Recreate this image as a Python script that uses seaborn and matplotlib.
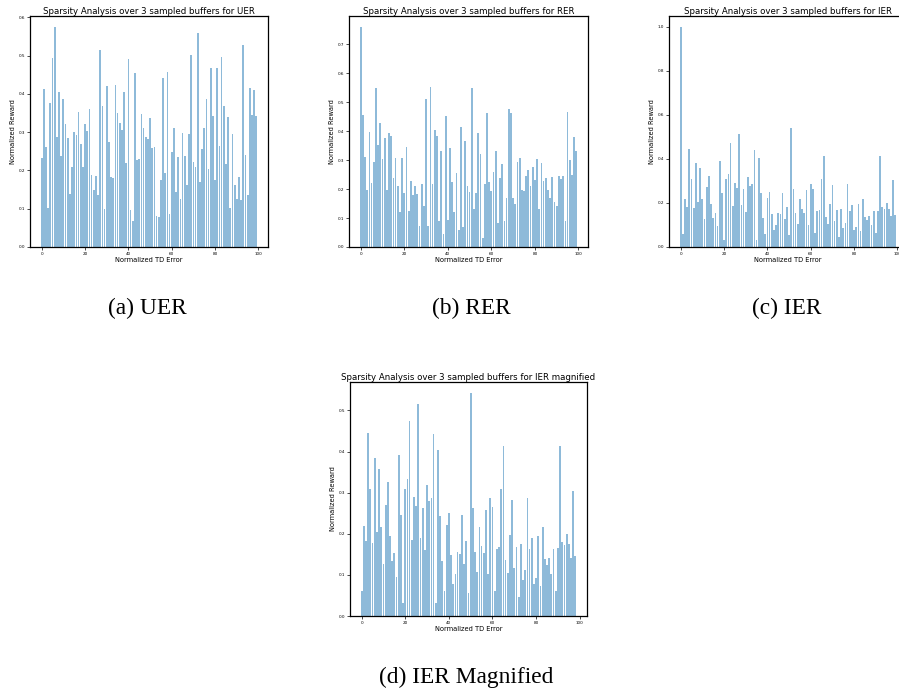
import matplotlib
matplotlib.use("Agg")
import matplotlib.pyplot as plt
import seaborn as sns
import numpy as np
import pandas as pd

uer = [0.233, 0.413, 0.262, 0.103, 0.376, 0.493, 0.575, 0.288, 0.405, 0.238,
       0.387, 0.322, 0.285, 0.139, 0.210, 0.301, 0.293, 0.353, 0.270, 0.210,
       0.322, 0.303, 0.360, 0.189, 0.150, 0.186, 0.137, 0.515, 0.369, 0.100,
       0.421, 0.275, 0.184, 0.181, 0.423, 0.350, 0.324, 0.306, 0.405, 0.220,
       0.491, 0.098, 0.069, 0.454, 0.228, 0.230, 0.348, 0.311, 0.288, 0.283,
       0.337, 0.260, 0.262, 0.082, 0.079, 0.176, 0.441, 0.194, 0.457, 0.085,
       0.249, 0.312, 0.145, 0.234, 0.126, 0.299, 0.238, 0.163, 0.296, 0.502,
       0.223, 0.210, 0.560, 0.169, 0.257, 0.312, 0.387, 0.205, 0.468, 0.343,
       0.174, 0.468, 0.265, 0.497, 0.369, 0.218, 0.340, 0.101, 0.296, 0.163,
       0.126, 0.184, 0.122, 0.528, 0.241, 0.135, 0.416, 0.345, 0.411, 0.342]

rer = [0.760, 0.456, 0.312, 0.198, 0.399, 0.222, 0.295, 0.550, 0.353, 0.429,
       0.305, 0.378, 0.198, 0.395, 0.385, 0.240, 0.308, 0.212, 0.122, 0.309,
       0.188, 0.347, 0.126, 0.229, 0.181, 0.212, 0.184, 0.074, 0.219, 0.142,
       0.512, 0.074, 0.553, 0.219, 0.405, 0.385, 0.091, 0.333, 0.046, 0.454,
       0.094, 0.343, 0.223, 0.122, 0.257, 0.060, 0.415, 0.070, 0.367, 0.212,
       0.191, 0.550, 0.132, 0.185, 0.395, 0.320, 0.032, 0.219, 0.464, 0.226,
       0.195, 0.260, 0.333, 0.082, 0.240, 0.288, 0.091, 0.171, 0.477, 0.464,
       0.171, 0.150, 0.295, 0.309, 0.198, 0.195, 0.246, 0.267, 0.212, 0.278,
       0.233, 0.305, 0.133, 0.291, 0.229, 0.240, 0.198, 0.171, 0.243, 0.157,
       0.140, 0.246, 0.236, 0.246, 0.091, 0.467, 0.302, 0.250, 0.381, 0.333]

ier = [1.000, 0.060, 0.220, 0.183, 0.446, 0.308, 0.178, 0.384, 0.205, 0.357,
       0.217, 0.126, 0.271, 0.325, 0.195, 0.134, 0.153, 0.094, 0.391, 0.246,
       0.032, 0.308, 0.332, 0.475, 0.185, 0.290, 0.268, 0.515, 0.190, 0.263,
       0.161, 0.318, 0.279, 0.288, 0.443, 0.032, 0.404, 0.244, 0.133, 0.060,
       0.222, 0.251, 0.148, 0.077, 0.101, 0.156, 0.151, 0.246, 0.126, 0.183,
       0.055, 0.542, 0.262, 0.156, 0.106, 0.217, 0.171, 0.153, 0.259, 0.101,
       0.286, 0.264, 0.062, 0.163, 0.168, 0.310, 0.414, 0.136, 0.104, 0.197,
       0.281, 0.116, 0.168, 0.047, 0.175, 0.087, 0.111, 0.288, 0.163, 0.190,
       0.077, 0.092, 0.195, 0.072, 0.217, 0.138, 0.124, 0.141, 0.101, 0.163,
       0.062, 0.165, 0.414, 0.180, 0.173, 0.200, 0.175, 0.141, 0.303, 0.145]

ier_mag = ier[1:]

titles = ["Sparsity Analysis over 3 sampled buffers for UER",
          "Sparsity Analysis over 3 sampled buffers for RER",
          "Sparsity Analysis over 3 sampled buffers for IER",
          "Sparsity Analysis over 3 sampled buffers for IER magnified"]
captions = ["(a) UER", "(b) RER", "(c) IER", "(d) IER Magnified"]
xlabel = "Normalized TD Error"
ylabel = "Normalized Reward"

W, H = 899, 692
fig = plt.figure(figsize=(W / 100, H / 100), dpi=100)
fig.patch.set_facecolor("white")

def rect(l, r, t, b):
    return [l / W, 1 - b / H, (r - l) / W, (b - t) / H]

boxes = [rect(30, 268, 16, 247), rect(349, 588, 16, 247),
         rect(669, 907, 16, 247), rect(350, 587, 382, 616)]
series = [uer, rer, ier, ier_mag]

for data, box, title in zip(series, boxes, titles):
    ax = fig.add_axes(box)
    df = pd.DataFrame({"x": np.arange(len(data)), "y": data})
    sns.barplot(data=df, x="x", y="y", native_scale=True, color="#1f77b4",
                saturation=1, alpha=0.5, errorbar=None, width=0.8,
                edgecolor="none", linewidth=0, ax=ax)
    ax.set_title(title, fontsize=6.2, pad=1.5)
    ax.set_xlabel(xlabel, fontsize=4.8, labelpad=0.5)
    ax.set_ylabel(ylabel, fontsize=4.8, labelpad=2)
    ax.tick_params(labelsize=3, length=2, width=0.5, pad=1.5)
    ax.set_xticks([0, 20, 40, 60, 80, 100])
    for s in ax.spines.values():
        s.set_linewidth(0.9)
        s.set_visible(True)

cap_pos = [(147, 308), (471, 308), (787, 308), (466, 677)]
for (cx, cy), cap in zip(cap_pos, captions):
    fig.text(cx / W, 1 - cy / H, cap, ha="center", va="center",
             fontsize=16.8, family="Liberation Serif")

fig.savefig("out.png", dpi=100, facecolor="white")
